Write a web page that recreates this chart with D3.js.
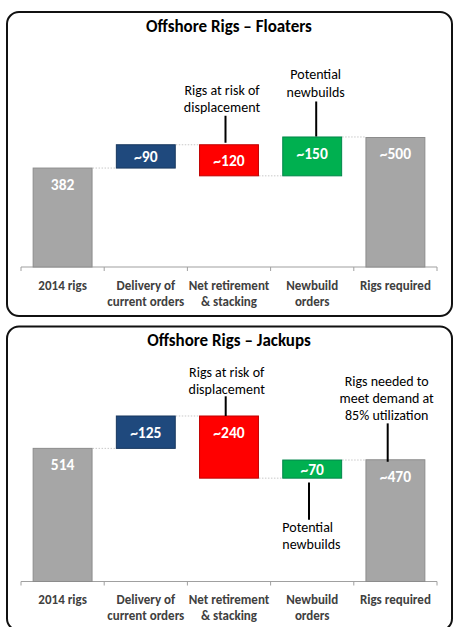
<!DOCTYPE html>
<html><head><meta charset="utf-8">
<script src="https://cdn.jsdelivr.net/npm/d3@7"></script>
<style>body{margin:0;background:#fff} svg{display:block}</style>
</head><body><svg id="c" width="457" height="627"></svg>
<script>
// ---- data ----
const categories = ["2014 rigs", "Delivery of\ncurrent orders", "Net retirement\n& stacking", "Newbuild\norders", "Rigs required"];
const floaterTitle = "Offshore Rigs – Floaters";
const floaterValues = [382, 90, -120, 150, 500];
const floaterLabels = ["382", "~90", "~120", "~150", "~500"];
const floaterNotes = [
  {cat: 2, lines: ["Rigs at risk of", "displacement"]},
  {cat: 3, lines: ["Potential", "newbuilds"]}
];
const jackupTitle = "Offshore Rigs – Jackups";
const jackupValues = [514, 125, -240, 70, 470];
const jackupLabels = ["514", "~125", "~240", "~70", "~470"];
const jackupNotes = [
  {cat: 2, lines: ["Rigs at risk of", "displacement"]},
  {cat: 4, lines: ["Rigs needed to", "meet demand at", "85% utilization"]},
  {cat: 3, lines: ["Potential", "newbuilds"], below: true}
];
const yDomain = [0, 600];

// ---- styles / layout ----
const FONT = "Carlito, Lato, 'Open Sans', sans-serif";
const colors = ["#a6a6a6", "#1f497d", "#ff0000", "#00b050", "#a6a6a6"];
const strokes = ["#8c8c8c", "#17375e", "#c00000", "#00864a", "#8c8c8c"];
// note placement (per panel, same order as notes)
const floaterNoteLayout = [
  {dx: -3.5, gap: 2, len: 27, tg: 8.5, lh: 17, tdx: -3.5},
  {dx: 4, gap: 0.5, len: 35, tg: 9.7, lh: 18, tdx: -0.5}
];
const jackupNoteLayout = [
  {dx: -3.3, gap: 0, len: 19.7, tg: 6.7, lh: 17.6, tdx: 1},
  {dx: -7.7, gap: -2, len: 38.4, tg: 8.3, lh: 17, tdx: -1},
  {dx: -3.2, gap: 4.4, len: 37.3, tg: 7.3, lh: 17, tdx: -26.7, anchor: "start"}
];

const svg = d3.select("#c");

function drawPanel(offset, title, values, labels, notes, noteLayout) {
  const g = svg.append("g").attr("transform", `translate(0,${offset})`);
  g.append("rect").attr("x", 7).attr("y", 12).attr("width", 445).attr("height", 304)
    .attr("rx", 12).attr("fill", "#fff").attr("stroke", "#111").attr("stroke-width", 2);
  g.append("text").attr("x", 229).attr("y", 31.5).attr("text-anchor", "middle")
    .attr("font-family", FONT).attr("font-weight", "bold").attr("font-size", 17)
    .attr("fill", "#000").text(title);

  const axisY = 267;
  const x = d3.scaleBand().domain(categories).range([21, 437]).paddingInner(0.28).paddingOuter(0.14);
  const y = d3.scaleLinear().domain(yDomain).range([axisY, axisY - 0.259 * (yDomain[1] - yDomain[0])]);

  // compute waterfall
  let cum = 0;
  const bars = values.map((v, i) => {
    let lo, hi, end;
    if (i === 0 || i === values.length - 1) { lo = 0; hi = v; end = v; cum = v; }
    else { const s = cum; cum = cum + v; lo = Math.min(s, cum); hi = Math.max(s, cum); end = cum; }
    return {cat: categories[i], lo, hi, end, label: labels[i], i};
  });

  // connectors
  g.selectAll(".conn").data(bars.slice(0, -1)).join("line")
    .attr("x1", d => x(d.cat) + x.bandwidth())
    .attr("x2", d => x(categories[d.i + 1]))
    .attr("y1", d => y(d.end)).attr("y2", d => y(d.end))
    .attr("stroke", "#c8c8c8").attr("stroke-width", 1).attr("stroke-dasharray", "1.5,1.5");

  // axis
  g.append("line").attr("x1", 21).attr("x2", 437).attr("y1", axisY).attr("y2", axisY)
    .attr("stroke", "#a0a0a0").attr("stroke-width", 1.2);
  const tickXs = d3.range(categories.length + 1).map(k => 21 + k * x.step());
  g.selectAll(".tick").data(tickXs).join("line")
    .attr("x1", d => d).attr("x2", d => d).attr("y1", axisY).attr("y2", axisY + 4)
    .attr("stroke", "#a0a0a0").attr("stroke-width", 1);

  // bars
  g.selectAll(".bar").data(bars).join("rect")
    .attr("x", d => x(d.cat) + 0.5).attr("width", x.bandwidth() - 1)
    .attr("y", d => y(d.hi)).attr("height", d => y(d.lo) - y(d.hi))
    .attr("fill", d => colors[d.i]).attr("stroke", d => strokes[d.i]).attr("stroke-width", 1);

  // value labels
  g.selectAll(".vl").data(bars).join("text")
    .attr("x", d => x(d.cat) + x.bandwidth() / 2)
    .attr("y", d => Math.min(y(d.hi) + 16.5, (y(d.hi) + y(d.lo)) / 2))
    .attr("dy", "0.35em").attr("text-anchor", "middle")
    .attr("font-family", FONT).attr("font-weight", "bold").attr("font-size", 15.5)
    .attr("fill", "#fff").text(d => d.label);

  // category labels
  categories.forEach(c => {
    const t = g.append("text").attr("x", x(c) + x.bandwidth() / 2).attr("y", 285)
      .attr("text-anchor", "middle").attr("font-family", FONT).attr("font-weight", "bold")
      .attr("font-size", 13).attr("fill", "#404040");
    c.split("\n").forEach((ln, k) => {
      t.append("tspan").attr("x", x(c) + x.bandwidth() / 2).attr("y", 285 + k * 16)
        .attr("dy", "0.35em").text(ln);
    });
  });

  // notes
  notes.forEach((n, k) => {
    const L = noteLayout[k];
    const b = bars[n.cat];
    const cx = x(b.cat) + x.bandwidth() / 2 + L.dx;
    let y1, y2, ys;
    if (!n.below) {
      y1 = y(b.hi) - L.gap; y2 = y1 - L.len;
      const last = y2 - L.tg;
      ys = n.lines.map((_, j) => last - (n.lines.length - 1 - j) * L.lh);
    } else {
      y1 = y(b.lo) + L.gap; y2 = y1 + L.len;
      const first = y2 + L.tg;
      ys = n.lines.map((_, j) => first + j * L.lh);
    }
    g.append("line").attr("x1", cx).attr("x2", cx).attr("y1", y1).attr("y2", y2)
      .attr("stroke", "#000").attr("stroke-width", 2);
    n.lines.forEach((ln, j) => {
      g.append("text").attr("x", cx + L.tdx).attr("y", ys[j]).attr("dy", "0.35em")
        .attr("text-anchor", L.anchor || "middle").attr("font-family", FONT)
        .attr("font-size", 14).attr("fill", "#000").text(ln);
    });
  });
}

drawPanel(0, floaterTitle, floaterValues, floaterLabels, floaterNotes, floaterNoteLayout);
drawPanel(314.5, jackupTitle, jackupValues, jackupLabels, jackupNotes, jackupNoteLayout);
</script></body></html>
